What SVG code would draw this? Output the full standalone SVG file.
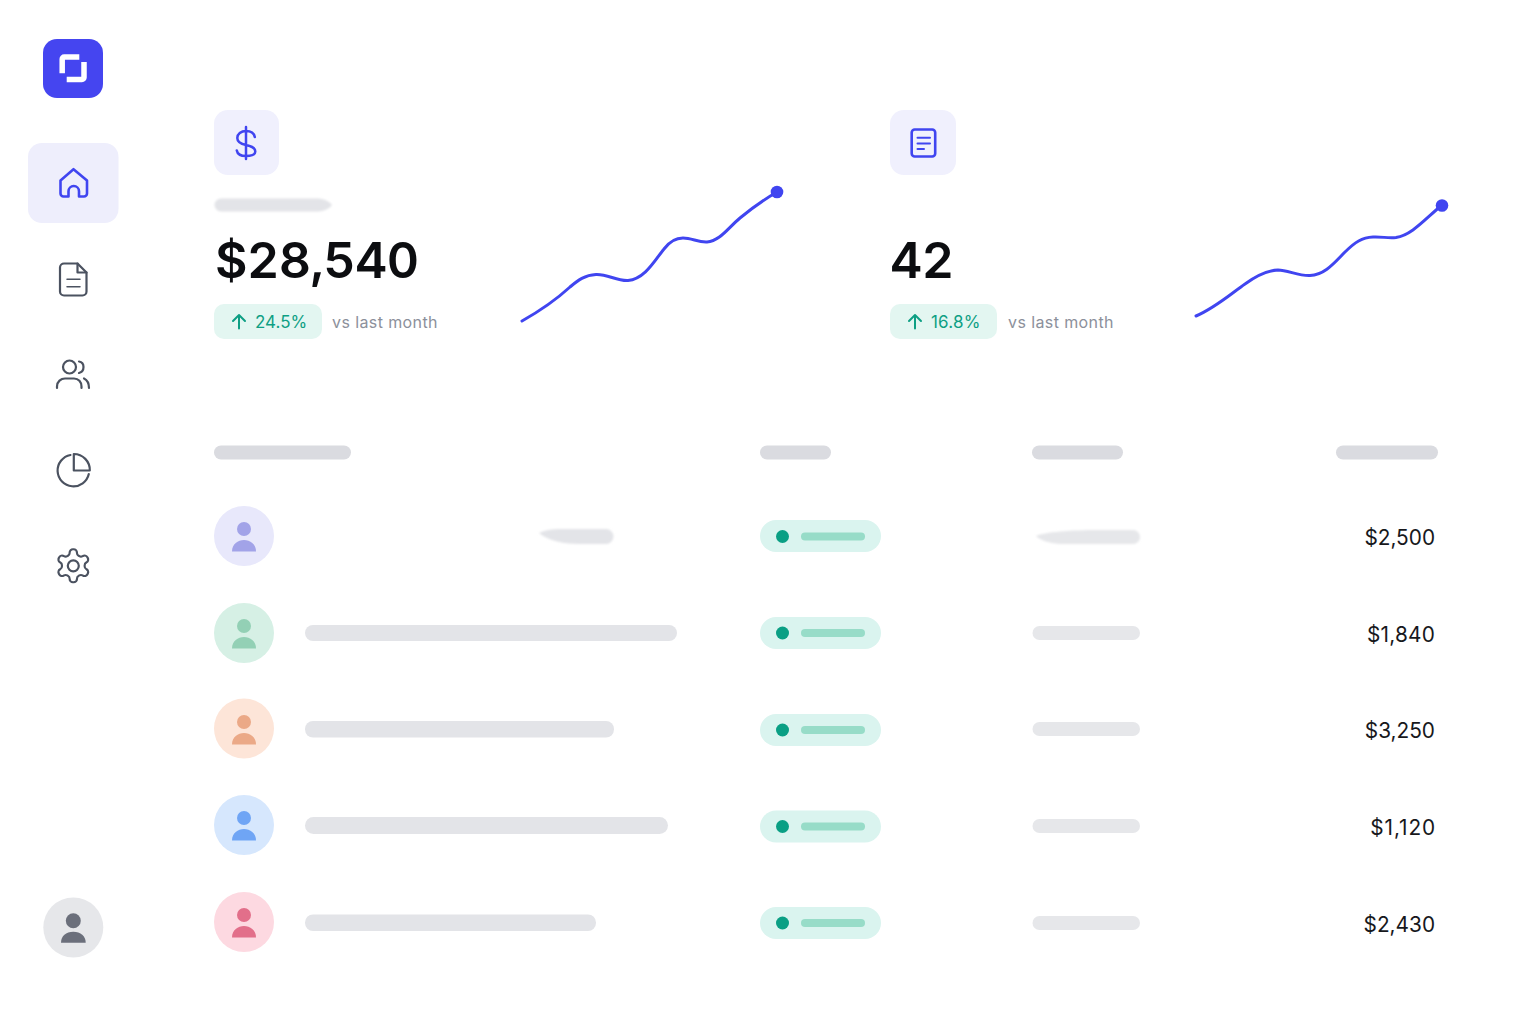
<svg xmlns="http://www.w3.org/2000/svg" width="1536" height="1024" viewBox="0 0 1536 1024">
<defs>
<style>
text{font-family:Inter,"Liberation Sans",sans-serif}
.ico{fill:none;stroke:#4b5260;stroke-width:2.200;stroke-linecap:round;stroke-linejoin:round}
.blue{fill:none;stroke:#4045f0;stroke-width:2.600;stroke-linecap:round;stroke-linejoin:round}
.tile{fill:#f0f0fd}
.big{font-size:50px;font-weight:600;fill:#0c0d10;letter-spacing:-.6px;font-variant-numeric:tabular-nums}
.badge{fill:#e3f6f1}
.pct{font-size:17px;font-weight:400;fill:#0e9f84}
.arr{fill:none;stroke:#0e9f84;stroke-width:2;stroke-linecap:round;stroke-linejoin:round}
.vs{font-size:16px;fill:#8c909b;letter-spacing:.4px}
.hd{fill:#dadbe0}
.sk{fill:#e3e4e8}
.sk3{fill:#e6e7ea}
.pill{fill:#daf4ef}
.dot{fill:#0a9f84}
.pbar{fill:#97dcc8}
.amt{font-size:20.800px;fill:#17181c;text-anchor:end}
.spark{fill:none;stroke:#4045f0;stroke-width:3;stroke-linecap:round}
</style>
<filter id="smudge" x="-10%" y="-50%" width="120%" height="200%"><feGaussianBlur stdDeviation="1.200"/></filter>
<g id="person"><circle cx="0" cy="-7" r="7"/><path d="M-12 15.500C-12 8-6 4 0 4S12 8 12 15.500Z"/></g>
</defs>
<rect width="1536" height="1024" fill="#fff"/>

<g id="logo">
<rect x="43" y="39" width="60" height="59" rx="14" fill="#4545f0"/>
<path d="M62.200 73.300V59a2 2 0 0 1 2-2H79.300M84 62V77.500a2 2 0 0 1-2 2H66.700" fill="none" stroke="#fff" stroke-width="5.500"/>
</g>

<g id="nav-home">
<rect x="28" y="143" width="90.500" height="80" rx="14" fill="#eeeefc"/>
<path class="blue" d="M60.500 180.500 73.500 169.200 87 180.500V193.500a3 3 0 0 1-3 3H79V191.300a5.250 5.250 0 0 0-10.500 0V196.500H63.500a3 3 0 0 1-3-3Z"/>
</g>
<g id="nav-doc">
<path class="ico" d="M64 263.500H77.500L86.500 272.500V291.500a4 4 0 0 1-4 4H64a4 4 0 0 1-4-4V267.500a4 4 0 0 1 4-4Z"/>
<path class="ico" d="M77.500 263.500V272.500H86.500"/>
<path class="ico" style="stroke-width:1.500" d="M67 279.300H80M67 286.700H80"/>
</g>
<g id="nav-users">
<circle class="ico" cx="69.500" cy="367" r="6.500"/>
<path class="ico" d="M57 388V386.500C57 381.500 61 378.500 65 378.500H74C78.500 378.500 81.500 382 81.500 386.500V388"/>
<path class="ico" d="M79 361.500C85 362.500 85 371.500 79 373M84 378.500C87 380 89 383 89 388"/>
</g>
<g id="nav-chart">
<path class="ico" d="M70.500 455A15.800 15.800 0 1 0 88.800 474"/>
<path class="ico" d="M73.800 454V470.500H89.800A16 16 0 0 0 73.800 454Z"/>
</g>
<g id="nav-settings">
<path class="ico" transform="translate(53.500 546) scale(1.650)" style="stroke-width:1.300" d="M12.220 2h-.44a2 2 0 0 0-2 2v.18a2 2 0 0 1-1 1.730l-.43.25a2 2 0 0 1-2 0l-.15-.08a2 2 0 0 0-2.730.73l-.22.38a2 2 0 0 0 .73 2.730l.15.1a2 2 0 0 1 1 1.720v.51a2 2 0 0 1-1 1.740l-.15.09a2 2 0 0 0-.73 2.730l.22.38a2 2 0 0 0 2.730.73l.15-.08a2 2 0 0 1 2 0l.43.25a2 2 0 0 1 1 1.730V20a2 2 0 0 0 2 2h.44a2 2 0 0 0 2-2v-.18a2 2 0 0 1 1-1.730l.43-.25a2 2 0 0 1 2 0l.15.08a2 2 0 0 0 2.730-.73l.22-.39a2 2 0 0 0-.73-2.730l-.15-.08a2 2 0 0 1-1-1.740v-.5a2 2 0 0 1 1-1.740l.15-.09a2 2 0 0 0 .73-2.730l-.22-.38a2 2 0 0 0-2.730-.73l-.15.08a2 2 0 0 1-2 0l-.43-.25a2 2 0 0 1-1-1.730V4a2 2 0 0 0-2-2z"/>
<circle class="ico" cx="73.300" cy="565.800" r="5.500"/>
</g>
<g id="user-avatar">
<circle cx="73.300" cy="927.500" r="30" fill="#e6e7ea"/>
<circle cx="73.300" cy="920.700" r="7.500" fill="#6b6f7b"/>
<path d="M61 942.700C61 936 66 931.700 73.300 931.700S85.700 936 85.700 942.700Z" fill="#6b6f7b"/>
</g>

<g id="stat-revenue">
<rect class="tile" x="214" y="110" width="65" height="65" rx="14"/>
<path class="blue" style="stroke-width:2.500" d="M254.800 137C254 133 250.500 131 246 131C241 131 237.300 134 237.300 138C237.300 142.500 241 144 246 145C251 146 255.300 147.500 255.300 151.500C255.300 155 251 156 246 156C241 156 237.500 154.500 236.800 150.500M246 127V159"/>
<path class="sk" filter="url(#smudge)" d="M221 198.500H316C324 198.500 329 201 332 205C329 209 324 211.500 316 211.500H221a6.500 6.500 0 0 1 0-13Z"/>
<text class="big" x="215" y="278">$28,540</text>
<rect class="badge" x="214" y="304" width="108" height="35" rx="10"/>
<path class="arr" d="M239 328.500V315M233 321 239 315 245 321"/>
<text class="pct" x="255" y="328">24.5%</text>
<text class="vs" x="332" y="328">vs last month</text>
</g>
<g id="stat-invoices">
<rect class="tile" x="890" y="110" width="66" height="65" rx="14"/>
<rect class="blue" x="911.700" y="129.500" width="23.500" height="27" rx="3"/>
<path class="blue" style="stroke-width:2" d="M917.500 137.700H930M917.500 143.500H930M917.500 149H924"/>
<text class="big" x="890" y="278">42</text>
<rect class="badge" x="890" y="304" width="107" height="35" rx="10"/>
<path class="arr" d="M915 328.500V315M909 321 915 315 921 321"/>
<text class="pct" x="931" y="328" style="letter-spacing:.2px">16.8%</text>
<text class="vs" x="1008" y="328">vs last month</text>
</g>

<g id="connectors">
<path class="spark" d="M522 321C545 308 558 298 570 287C578 280 585 275 596 274.500C608 274 616 281 628 280.500C645 279 655 260 664 249C670 241 676 238 683 238C692 238 698 242.500 707 242C720 241 728 228 740 218C752 208 765 199 777 192"/>
<circle cx="777" cy="192" r="6.300" fill="#4045f0"/>
<path class="spark" d="M1196 316C1215 308 1232 293 1245 284C1256 276 1266 270.500 1278 270C1288 270 1298 276 1310 275.500C1325 275 1335 262 1345 252C1355 242 1362 237.500 1373 237C1382 236.500 1388 238.500 1396 237.500C1412 235 1425 219 1442 205"/>
<circle cx="1442" cy="205.500" r="6.300" fill="#4045f0"/>
</g>

<g id="table-header">
<rect class="hd" x="214" y="445.500" width="137" height="14" rx="7"/>
<rect class="hd" x="760" y="445.500" width="71" height="14" rx="7"/>
<rect class="hd" x="1032" y="445.500" width="91" height="14" rx="7"/>
<rect class="hd" x="1336" y="445.500" width="102" height="14" rx="7"/>
</g>

<g id="row-1">
<circle cx="244" cy="536" r="30" fill="#e8e8fb"/>
<use href="#person" x="244" y="536" fill="#a2a3e8"/>
<path class="sk" filter="url(#smudge)" d="M539 533C547 529 556 529 566 529H606a7.500 7.500 0 0 1 0 15H580C565 544 548 541 539 533Z"/>
<rect class="pill" x="760" y="520" width="121" height="32" rx="16"/>
<circle class="dot" cx="782.500" cy="536.500" r="6.500"/>
<rect class="pbar" x="801" y="532.500" width="64" height="8" rx="4"/>
<path class="sk3" filter="url(#smudge)" d="M1036 536C1045 532 1070 530 1100 530H1133a7 7 0 0 1 0 14H1060C1048 543 1040 540 1036 536Z"/>
<text class="amt" x="1435" y="545">$2,500</text>
</g>
<g id="row-2">
<circle cx="244" cy="633" r="30" fill="#d6f0e5"/>
<use href="#person" x="244" y="633" fill="#93d0b5"/>
<rect class="sk" x="305" y="625" width="372" height="16" rx="8"/>
<rect class="pill" x="760" y="617" width="121" height="32" rx="16"/>
<circle class="dot" cx="782.500" cy="633" r="6.500"/>
<rect class="pbar" x="801" y="629" width="64" height="8" rx="4"/>
<rect class="sk3" x="1032.500" y="626" width="107.500" height="14" rx="7"/>
<text class="amt" x="1435" y="641.500" style="letter-spacing:.2px">$1,840</text>
</g>
<g id="row-3">
<circle cx="244" cy="728.500" r="30" fill="#fde5d8"/>
<use href="#person" x="244" y="729" fill="#eba987"/>
<rect class="sk" x="305" y="721" width="309" height="16.500" rx="8"/>
<rect class="pill" x="760" y="714" width="121" height="32" rx="16"/>
<circle class="dot" cx="782.500" cy="730" r="6.500"/>
<rect class="pbar" x="801" y="726" width="64" height="8" rx="4"/>
<rect class="sk3" x="1032.500" y="722" width="107.500" height="14" rx="7"/>
<text class="amt" x="1435" y="738">$3,250</text>
</g>
<g id="row-4">
<circle cx="244" cy="825" r="30" fill="#d6e7fd"/>
<use href="#person" x="244" y="825" fill="#6fa5f5"/>
<rect class="sk" x="305" y="817" width="363" height="17" rx="8.500"/>
<rect class="pill" x="760" y="810.500" width="121" height="32" rx="16"/>
<circle class="dot" cx="782.500" cy="826.500" r="6.500"/>
<rect class="pbar" x="801" y="822.500" width="64" height="8" rx="4"/>
<rect class="sk3" x="1032.500" y="819" width="107.500" height="14" rx="7"/>
<text class="amt" x="1436" y="835" style="letter-spacing:.9px">$1,120</text>
</g>
<g id="row-5">
<circle cx="244" cy="922" r="30" fill="#fdd9e1"/>
<use href="#person" x="244" y="922" fill="#e26f8a"/>
<rect class="sk" x="305" y="914.500" width="291" height="16.500" rx="8"/>
<rect class="pill" x="760" y="907" width="121" height="32" rx="16"/>
<circle class="dot" cx="782.500" cy="923" r="6.500"/>
<rect class="pbar" x="801" y="919" width="64" height="8" rx="4"/>
<rect class="sk3" x="1032.500" y="916" width="107.500" height="14" rx="7"/>
<text class="amt" x="1435" y="931.500">$2,430</text>
</g>
</svg>
